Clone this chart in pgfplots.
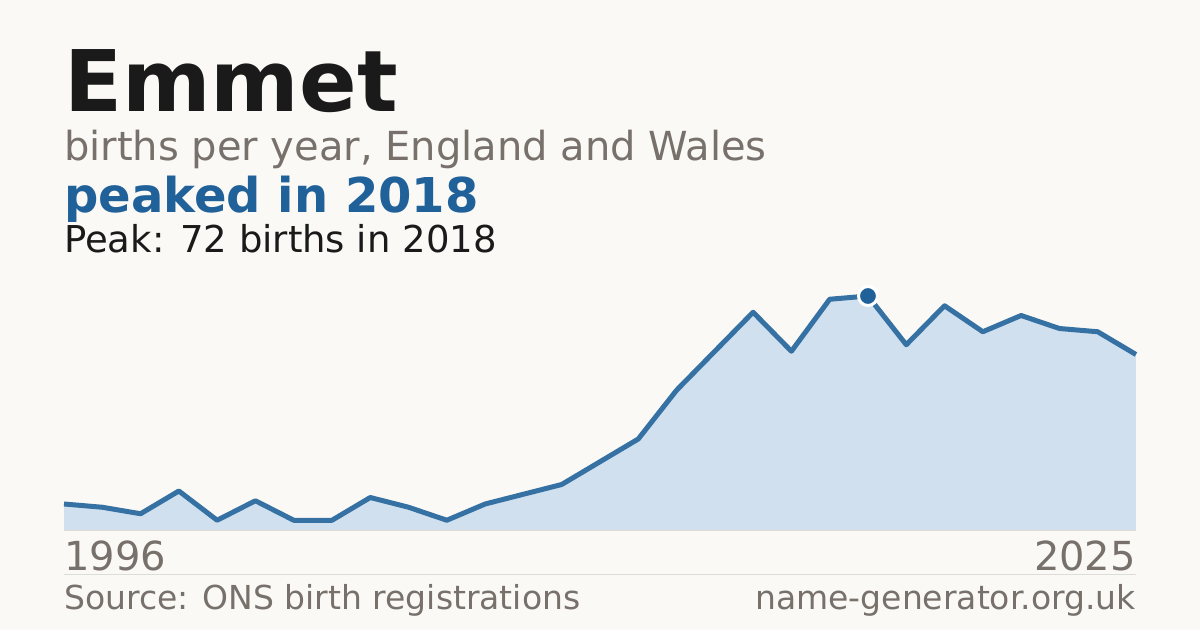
\documentclass[border=0pt]{standalone}
\usepackage{pgfplots}
\usepackage{pgfplotstable}
\pgfplotsset{compat=1.18}
\usepackage{fontspec}
\setmainfont{DejaVu Sans}

\definecolor{bg}{HTML}{FAF9F5}
\definecolor{ink}{HTML}{1A1A1A}
\definecolor{muted}{HTML}{78716B}
\definecolor{accent}{HTML}{20619A}
\definecolor{areafill}{HTML}{D0E0EF}
\definecolor{rule}{HTML}{DEDCD6}

% births per year, points in order 1996 ... 2025
\pgfplotstableread{
idx births
0  8
1  7
2  5
3  12
4  3
5  9
6  3
7  3
8  10
9  7
10 3
11 8
12 11
13 14
14 21
15 28
16 43
17 55
18 67
19 55
20 71
21 72
22 57
23 69
24 61
25 66
26 62
27 61
28 54
}\births

\begin{document}
\begin{tikzpicture}[x=1pt,y=1pt]
\fill[bg] (0,0) rectangle (1200,630);

% titles
\node[anchor=base west,inner sep=0,text=ink] at (64,518)
  {\fontsize{85}{90}\selectfont\bfseries Emmet};
\node[anchor=base west,inner sep=0,text=muted] at (64,469)
  {\fontsize{40}{44}\selectfont births per year, England and Wales};
\node[anchor=base west,inner sep=0,text=accent] at (64,417)
  {\fontsize{48}{52}\selectfont\bfseries peaked in 2018};
\node[anchor=base west,inner sep=0,text=ink] at (64,377)
  {\fontsize{37}{40}\selectfont Peak: 72 births in 2018};

\begin{axis}[
  at={(64pt,100pt)}, anchor=south west,
  scale only axis,
  width=1072pt, height=234pt,
  xmin=0, xmax=28, ymin=0, ymax=72,
  hide axis,
  clip=false,
]
\addplot[fill=areafill, draw=none] table[x=idx,y=births] {\births} \closedcycle;
\addplot[accent!90!white, line width=5pt, line join=round] table[x=idx,y=births] {\births};
\addplot[only marks, mark=*, mark size=9.5pt,
  mark options={fill=accent, draw=white, line width=3pt}]
  coordinates {(21,72)};
\end{axis}

% rules and labels
\draw[rule, line width=1pt] (64,100) -- (1136,100);
\draw[rule, line width=1pt] (64,56) -- (1136,56);
\node[anchor=base west,inner sep=0,text=muted] at (64,60)
  {\fontsize{40}{44}\selectfont 1996};
\node[anchor=base east,inner sep=0,text=muted] at (1136,60)
  {\fontsize{40}{44}\selectfont 2025};
\node[anchor=base west,inner sep=0,text=muted] at (64,21)
  {\fontsize{33}{36}\selectfont Source: ONS birth registrations};
\node[anchor=base east,inner sep=0,text=muted] at (1136,21)
  {\fontsize{33}{36}\selectfont name-generator.org.uk};

\pgfresetboundingbox
\useasboundingbox (0,0) rectangle (1200,630);
\end{tikzpicture}
\end{document}
